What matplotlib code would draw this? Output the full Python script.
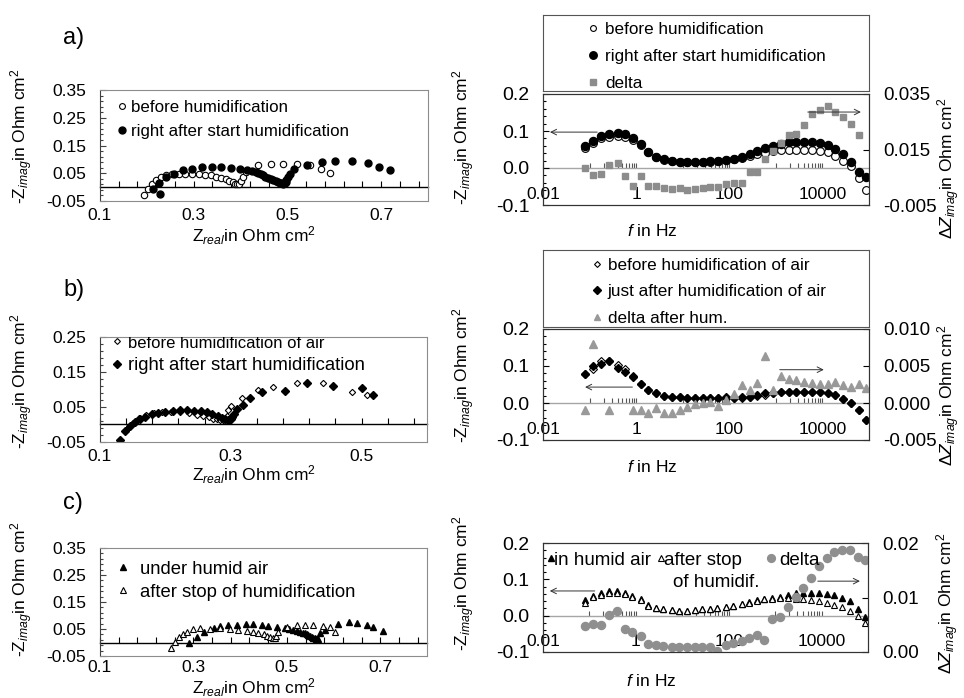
import numpy as np
import matplotlib
matplotlib.use('Agg')
import matplotlib.pyplot as plt
from matplotlib.ticker import (MultipleLocator, FixedLocator, FormatStrFormatter,
                               FuncFormatter, NullLocator)
from matplotlib.lines import Line2D

plt.rcParams['font.family'] = ['Liberation Sans', 'DejaVu Sans']
plt.rcParams['mathtext.fontset'] = 'custom'
plt.rcParams['mathtext.rm'] = 'Liberation Sans'
plt.rcParams['mathtext.it'] = 'Liberation Sans:italic'
plt.rcParams['mathtext.bf'] = 'Liberation Sans:bold'

# ---------------- data ----------------
# frequencies (Hz) used for all Bode plots
freq = [0.08, 0.12, 0.18, 0.26, 0.40, 0.58, 0.84, 1.27, 1.8, 2.7, 3.9, 5.9, 8.6,
        12.5, 18.7, 27, 39.5, 57, 87, 126, 190, 274, 400, 580, 870, 1270, 1920,
        2770, 4040, 5900, 8800, 12900, 18500, 27900, 40900, 60000, 86000]

# a) Nyquist
a_before_re = [0.194, 0.202, 0.211, 0.220, 0.230, 0.241, 0.253, 0.268, 0.282, 0.296,
               0.311, 0.325, 0.337, 0.348, 0.358, 0.368, 0.376, 0.383, 0.388, 0.393,
               0.397, 0.401, 0.405, 0.412, 0.437, 0.465, 0.491, 0.521, 0.548, 0.572, 0.591]
a_before_im = [-0.029, -0.007, 0.011, 0.025, 0.035, 0.043, 0.047, 0.049, 0.049, 0.048,
               0.047, 0.044, 0.042, 0.037, 0.032, 0.028, 0.023, 0.017, 0.013, 0.011,
               0.013, 0.023, 0.035, 0.055, 0.078, 0.085, 0.085, 0.083, 0.080, 0.066, 0.052]
a_after_re = [0.213, 0.228, 0.225, 0.241, 0.258, 0.278, 0.296, 0.318, 0.339, 0.359,
              0.380, 0.398, 0.414, 0.424, 0.432, 0.437, 0.443, 0.448, 0.453, 0.458,
              0.464, 0.469, 0.475, 0.480, 0.484, 0.488, 0.491, 0.494, 0.496, 0.498,
              0.501, 0.505, 0.514, 0.541, 0.573, 0.602, 0.637, 0.671, 0.695, 0.719]
a_after_im = [-0.008, -0.023, 0.016, 0.035, 0.049, 0.061, 0.067, 0.071, 0.072, 0.071,
              0.068, 0.065, 0.061, 0.057, 0.053, 0.050, 0.046, 0.042, 0.038, 0.033,
              0.029, 0.025, 0.022, 0.019, 0.016, 0.014, 0.013, 0.014, 0.018, 0.025,
              0.035, 0.047, 0.067, 0.079, 0.092, 0.095, 0.094, 0.088, 0.073, 0.061]
# a) Bode
a_bode_before = [0.053, 0.067, 0.081, 0.085, 0.086, 0.085, 0.077, 0.062, 0.043, 0.030,
                 0.022, 0.018, 0.016, 0.015, 0.015, 0.016, 0.017, 0.019, 0.021, 0.024,
                 0.028, 0.032, 0.037, 0.041, 0.045, 0.048, 0.049, 0.049, 0.049, 0.048,
                 0.046, 0.042, 0.032, 0.020, 0.006, -0.027, -0.060]
a_bode_after = [0.059, 0.073, 0.086, 0.092, 0.094, 0.091, 0.080, 0.064, 0.044, 0.031,
                0.023, 0.019, 0.017, 0.016, 0.016, 0.017, 0.018, 0.020, 0.022, 0.025,
                0.030, 0.038, 0.045, 0.053, 0.059, 0.066, 0.070, 0.070, 0.070, 0.069,
                0.067, 0.062, 0.051, 0.038, 0.017, -0.010, -0.023]
a_delta = [0.0082, 0.0058, 0.0061, 0.0094, 0.0102, 0.0055, 0.0019, 0.0055, 0.0019, 0.0018,
           0.0010, 0.0006, 0.0010, 0.0004, 0.0006, 0.0013, 0.0016, 0.0016, 0.0026, 0.0028,
           0.0030, 0.0070, 0.0070, 0.0114, 0.0145, 0.0172, 0.0202, 0.0205, 0.0238, 0.0277,
           0.0292, 0.0307, 0.0286, 0.0267, 0.0241, 0.0202, np.nan]

# b) Nyquist
b_before_re = [0.140, 0.150, 0.160, 0.170, 0.182, 0.195, 0.208, 0.222, 0.236, 0.248,
               0.258, 0.266, 0.273, 0.279, 0.284, 0.288, 0.291, 0.294, 0.296, 0.301,
               0.317, 0.342, 0.365, 0.401, 0.441, 0.485, 0.508]
b_before_im = [-0.015, 0.005, 0.018, 0.026, 0.032, 0.035, 0.036, 0.035, 0.032, 0.028,
               0.024, 0.020, 0.017, 0.015, 0.013, 0.012, 0.013, 0.025, 0.041, 0.053,
               0.075, 0.099, 0.106, 0.118, 0.118, 0.094, 0.083]
b_after_re = [0.131, 0.138, 0.146, 0.154, 0.161, 0.169, 0.179, 0.189, 0.199, 0.211,
              0.222, 0.233, 0.243, 0.254, 0.264, 0.272, 0.280, 0.286, 0.291, 0.295,
              0.298, 0.300, 0.302, 0.305, 0.310, 0.318, 0.329, 0.348, 0.383, 0.417,
              0.456, 0.500, 0.518]
b_after_im = [-0.044, -0.020, -0.004, 0.008, 0.016, 0.022, 0.029, 0.034, 0.037, 0.039,
              0.040, 0.040, 0.039, 0.038, 0.035, 0.030, 0.025, 0.018, 0.015, 0.014,
              0.014, 0.016, 0.022, 0.031, 0.043, 0.055, 0.075, 0.092, 0.097, 0.118,
              0.110, 0.103, 0.083]
# b) Bode
b_bode_before = [0.079, 0.091, 0.114, 0.113, 0.104, 0.093, 0.072, 0.051, 0.035, 0.026,
                 0.019, 0.016, 0.015, 0.013, 0.013, 0.013, 0.013, 0.013, 0.014, 0.013,
                 0.014, 0.016, 0.019, 0.022, 0.026, 0.029, 0.030, 0.030, 0.030, 0.030,
                 0.030, 0.028, 0.022, 0.012, -0.001, -0.020, -0.047]
b_bode_after = [0.079, 0.099, 0.106, 0.113, 0.094, 0.085, 0.071, 0.051, 0.035, 0.026,
                0.019, 0.016, 0.015, 0.013, 0.013, 0.013, 0.013, 0.013, 0.015, 0.013,
                0.015, 0.017, 0.022, 0.026, 0.028, 0.031, 0.031, 0.031, 0.031, 0.031,
                0.031, 0.028, 0.022, 0.012, -0.001, -0.020, -0.047]
b_delta = [-0.0009, 0.0080, np.nan, -0.0009, np.nan, np.nan, -0.0009, -0.0010, -0.0013, -0.0007,
           -0.0013, -0.0013, -0.0010, -0.0005, -0.0002, 0.0000, 0.0001, -0.0004, 0.0004, 0.0012,
           0.0024, 0.0018, 0.0027, 0.0064, 0.0018, 0.0036, 0.0033, 0.0031, 0.0029, 0.0027,
           0.0026, 0.0026, 0.0029, 0.0024, 0.0022, 0.0026, 0.0020]

# c) Nyquist
c_humid_re = [0.291, 0.307, 0.323, 0.343, 0.357, 0.375, 0.394, 0.413, 0.428, 0.446,
              0.460, 0.478, 0.496, 0.505, 0.514, 0.521, 0.528, 0.534, 0.539, 0.543,
              0.546, 0.550, 0.553, 0.557, 0.560, 0.562, 0.564, 0.567, 0.571, 0.582,
              0.610, 0.632, 0.650, 0.671, 0.685, 0.705]
c_humid_im = [-0.001, 0.021, 0.038, 0.053, 0.062, 0.065, 0.065, 0.067, 0.067, 0.065,
              0.062, 0.059, 0.053, 0.050, 0.046, 0.043, 0.040, 0.037, 0.034, 0.031,
              0.028, 0.024, 0.021, 0.018, 0.015, 0.013, 0.012, 0.014, 0.034, 0.046,
              0.069, 0.075, 0.071, 0.065, 0.059, 0.044]
c_after_re = [0.251, 0.261, 0.269, 0.277, 0.287, 0.300, 0.314, 0.336, 0.357, 0.378,
              0.396, 0.414, 0.428, 0.439, 0.450, 0.457, 0.464, 0.470, 0.475, 0.477,
              0.480, 0.500, 0.521, 0.539, 0.557, 0.577, 0.593, 0.603]
c_after_im = [-0.022, 0.003, 0.019, 0.031, 0.040, 0.049, 0.052, 0.050, 0.052, 0.050,
              0.046, 0.044, 0.040, 0.034, 0.030, 0.025, 0.021, 0.018, 0.015, 0.024,
              0.040, 0.059, 0.065, 0.065, 0.065, 0.062, 0.059, 0.040]
# c) Bode
c_bode_humid = [0.043, 0.054, 0.062, 0.068, 0.068, 0.063, 0.055, 0.045, 0.028, 0.021,
                0.018, 0.016, 0.014, 0.014, 0.016, 0.018, 0.019, 0.020, 0.023, 0.027,
                0.032, 0.037, 0.043, 0.047, 0.050, 0.052, 0.057, 0.063, 0.063, 0.062,
                0.062, 0.060, 0.057, 0.048, 0.039, 0.018, -0.004]
c_bode_after = [0.036, 0.051, 0.057, 0.063, 0.063, 0.060, 0.051, 0.043, 0.027, 0.020,
                0.018, 0.016, 0.014, 0.014, 0.016, 0.018, 0.019, 0.020, 0.023, 0.027,
                0.031, 0.036, 0.041, 0.045, 0.047, 0.048, 0.048, 0.047, 0.045, 0.043,
                0.041, 0.036, 0.029, 0.023, 0.014, -0.001, -0.021]
c_delta = [0.0048, 0.0051, 0.0050, 0.0068, 0.0076, 0.0043, 0.0037, 0.0029, 0.0014, 0.0013,
           0.0011, 0.0010, 0.0010, 0.0010, 0.0010, 0.0010, 0.0010, 0.0001, 0.0013, 0.0016,
           0.0020, 0.0025, 0.0031, 0.0022, 0.0060, 0.0065, 0.0083, 0.0101, 0.0117, 0.0136,
           0.0158, 0.0172, 0.0184, 0.0188, 0.0188, 0.0174, 0.0169]

bode_major = [0.01, 1, 100, 10000]
bode_minor = [0.1, 0.2, 0.3, 0.4, 0.5, 0.6, 0.7, 0.8, 0.9,
              10, 20, 30, 40, 50, 60, 70, 80, 90,
              1000, 2000, 3000, 4000, 5000, 6000, 7000, 8000, 9000]

# ---------------- layout helpers ----------------
W, H = 964, 698
fig = plt.figure(figsize=(W / 100, H / 100), dpi=100)
fig.patch.set_facecolor('white')


def box(x0, y0, x1, y1):
    return [x0 / W, 1 - y1 / H, (x1 - x0) / W, (y1 - y0) / H]


YLAB = r'-Z$_{imag}$in Ohm cm$^2$'
XLAB = r'Z$_{real}$in Ohm cm$^2$'
DLAB = r'$\Delta Z_{imag}$in Ohm cm$^2$'
FLAB = r'$f$ in Hz'


def style_nyq(ax, ymin, ymax, xmax, ylab_y, xlab_y, xpad=5):
    ax.set_xlim(0.1, xmax)
    ax.set_ylim(ymin, ymax)
    for s in ax.spines.values():
        s.set_color('#8c8c8c')
        s.set_linewidth(0.8)
    ax.spines['left'].set_color('#404040')
    ax.xaxis.set_major_locator(MultipleLocator(0.2, offset=0.1))
    ax.xaxis.set_minor_locator(MultipleLocator(0.04, offset=0.02))
    ax.xaxis.set_major_formatter(FormatStrFormatter('%.1f'))
    ax.tick_params(axis='x', which='both', length=0, pad=xpad, labelsize=12.5)
    ax.yaxis.set_major_locator(MultipleLocator(0.1, offset=0.05))
    ax.yaxis.set_minor_locator(MultipleLocator(0.02, offset=0.01))
    ax.yaxis.set_major_formatter(FormatStrFormatter('%.2f'))
    ax.tick_params(axis='y', which='major', direction='in', length=4, width=0.8,
                   pad=10, labelsize=12.5, color='#404040')
    ax.tick_params(axis='y', which='minor', direction='in', length=2.5, width=0.8,
                   color='#404040')
    zero = (0 - ymin) / (ymax - ymin)
    sec = ax.secondary_xaxis(zero)
    for s in sec.spines.values():
        s.set_color('black')
        s.set_linewidth(1.0)
    sec.xaxis.set_major_locator(MultipleLocator(0.2, offset=0.1))
    sec.xaxis.set_minor_locator(MultipleLocator(0.04, offset=0.02))
    sec.tick_params(axis='x', which='both', direction='in', length=4, width=0.8,
                    color='black', labelbottom=False, labeltop=False)
    ax.set_ylabel(YLAB, fontsize=12.5)
    ax.yaxis.set_label_coords(-0.198, ylab_y)
    ax.set_xlabel(XLAB, fontsize=12.5)
    ax.xaxis.set_label_coords(0.47, xlab_y)


def style_bode(ax, ax2, r0, r1, rloc, rfmt, ylab_y, dlab_x, dlab_y, flab_y):
    ax.set_xscale('log')
    ax.set_xlim(0.01, 1e5)
    ax.set_ylim(-0.1, 0.2)
    for a in (ax, ax2):
        for s in a.spines.values():
            s.set_color('#333333')
            s.set_linewidth(0.8)
    ax.xaxis.set_major_locator(FixedLocator(bode_major))
    ax.xaxis.set_minor_locator(NullLocator())
    ax.xaxis.set_major_formatter(FuncFormatter(lambda v, p: f'{v:g}'))
    ax.tick_params(axis='x', which='both', length=0, pad=-13, labelsize=12.5)
    ax.yaxis.set_major_locator(MultipleLocator(0.1))
    ax.yaxis.set_minor_locator(MultipleLocator(0.02))
    ax.yaxis.set_major_formatter(FormatStrFormatter('%.1f'))
    ax.tick_params(axis='y', which='major', direction='in', length=4, width=0.8,
                   pad=9.5, labelsize=14)
    ax.tick_params(axis='y', which='minor', direction='in', length=2.5, width=0.8)
    ax2.set_ylim(r0, r1)
    ax2.yaxis.set_major_locator(rloc)
    ax2.yaxis.set_minor_locator(NullLocator())
    ax2.yaxis.set_major_formatter(FormatStrFormatter(rfmt))
    ax2.tick_params(axis='y', which='major', direction='in', length=4, width=0.8,
                    pad=10, labelsize=13.5)
    sec = ax.secondary_xaxis(1.0 / 3.0)
    for s in sec.spines.values():
        s.set_color('#a6a6a6')
        s.set_linewidth(1.0)
    sec.xaxis.set_major_locator(FixedLocator(bode_major))
    sec.xaxis.set_minor_locator(FixedLocator(bode_minor))
    sec.tick_params(axis='x', which='both', direction='in', length=3.5, width=0.8,
                    color='#555555', labelbottom=False, labeltop=False)
    ax.set_ylabel(YLAB, fontsize=12.5)
    ax.yaxis.set_label_coords(-0.202, ylab_y)
    ax2.set_ylabel(DLAB, fontsize=12.5)
    ax2.yaxis.set_label_coords(dlab_x, dlab_y)
    ax.set_xlabel(FLAB, fontsize=12.5)
    ax.xaxis.set_label_coords(0.334, flab_y)


def arrow(ax, tail, head):
    ax.annotate('', xy=head, xytext=tail,
                arrowprops=dict(arrowstyle='->', lw=0.7, color='#333333',
                                shrinkA=0, shrinkB=0, mutation_scale=10))


def simple_leg(ax, handles, labels, loc, anchor, fs, hl, htp, ls):
    lg = ax.legend(handles, labels, loc=loc, bbox_to_anchor=anchor, frameon=False,
                   fontsize=fs, handlelength=hl, handletextpad=htp, labelspacing=ls,
                   borderaxespad=0, borderpad=0, numpoints=1)
    return lg


open_kw = dict(linestyle='none', markerfacecolor='white', markeredgecolor='black',
               markeredgewidth=0.8)
fill_kw = dict(linestyle='none', color='black')

# ================= a) =================
axA = fig.add_axes(box(100, 90, 428, 201))
axA.plot(a_before_re, a_before_im, marker='o', markersize=4.6, **open_kw)
axA.plot(a_after_re, a_after_im, marker='o', markersize=5.0, **fill_kw)
style_nyq(axA, -0.05, 0.35, 0.8, 0.58, -0.21)
hA = [Line2D([], [], marker='o', markersize=4.2, **open_kw),
      Line2D([], [], marker='o', markersize=5.0, **fill_kw)]
simple_leg(axA, hA, ['before humidification', 'right after start humidification'],
           'upper left', (0.057, 0.914), 12.2, 0.4, 0.3, 0.55)

axAR = fig.add_axes(box(543, 94, 869, 205))
axAR2 = axAR.twinx()
axAR.plot(freq, a_bode_before, marker='o', markersize=5.6, **open_kw)
axAR.plot(freq, a_bode_after, marker='o', markersize=5.8, **fill_kw)
axAR2.plot(freq, a_delta, marker='s', markersize=5.0, linestyle='none', color='#8c8c8c')
style_bode(axAR, axAR2, -0.005, 0.035, MultipleLocator(0.02, offset=0.015), '%.3f',
           0.61, 1.205, 0.33, -0.16)
arrow(axAR, (0.146, 0.097), (0.0141, 0.097))
arrow(axAR2, (4850, 0.0285), (67000, 0.0285))

legA = fig.add_axes(box(543, 15, 869, 91))
legA.set_xticks([]); legA.set_yticks([])
for s in legA.spines.values():
    s.set_color('#555555'); s.set_linewidth(0.8)
hAR = [Line2D([], [], marker='o', markersize=4.2, **open_kw),
       Line2D([], [], marker='o', markersize=5.4, **fill_kw),
       Line2D([], [], marker='s', markersize=4.4, linestyle='none', color='#8c8c8c')]
simple_leg(legA, hAR, ['before humidification', 'right after start humidification', 'delta'],
           'center left', (0.132, 0.455), 12.3, 0.8, 0.3, 0.68)

# ================= b) =================
axB = fig.add_axes(box(100, 337, 427, 442))
axB.plot(b_before_re, b_before_im, marker='D', markersize=3.2, **open_kw)
axB.plot(b_after_re, b_after_im, marker='D', markersize=3.6, **fill_kw)
style_nyq(axB, -0.05, 0.25, 0.6, 0.58, -0.2)
hB = [Line2D([], [], marker='D', markersize=3.0, **open_kw),
      Line2D([], [], marker='D', markersize=3.6, **fill_kw)]
lgB = simple_leg(axB, hB, ['before humidification of air', 'right after start humidification'],
                 'upper left', (0.038, 1.021), 13.3, 0.5, 0.35, 0.34)
lgB.get_texts()[0].set_fontsize(12)
for t in lgB.get_texts():
    t.set_clip_on(True)
    t.set_clip_box(axB.bbox)

axBR = fig.add_axes(box(543, 329, 869, 440))
axBR2 = axBR.twinx()
axBR.plot(freq, b_bode_before, marker='D', markersize=4.0, **open_kw)
axBR.plot(freq, b_bode_after, marker='D', markersize=4.0, **fill_kw)
axBR2.plot(freq, b_delta, marker='^', markersize=5.3, linestyle='none', color='#999999')
style_bode(axBR, axBR2, -0.005, 0.010, MultipleLocator(0.005), '%.3f',
           0.58, 1.205, 0.4, -0.17)
arrow(axBR, (0.83, 0.043), (0.08, 0.043))
arrow(axBR2, (1210, 0.0045), (10700, 0.0045))

legB = fig.add_axes(box(543, 250, 869, 327))
legB.set_xticks([]); legB.set_yticks([])
for s in legB.spines.values():
    s.set_color('#555555'); s.set_linewidth(0.8)
hBR = [Line2D([], [], marker='D', markersize=3.0, **open_kw),
       Line2D([], [], marker='D', markersize=3.6, **fill_kw),
       Line2D([], [], marker='^', markersize=4.6, linestyle='none', color='#999999')]
simple_leg(legB, hBR, ['before humidification of air', 'just after humidification of air',
                       'delta after hum.'],
           'center left', (0.144, 0.455), 12.3, 0.8, 0.25, 0.68)

# ================= c) =================
axC = fig.add_axes(box(100, 548, 427, 656))
axC.plot(c_humid_re, c_humid_im, marker='^', markersize=4.6, **fill_kw)
axC.plot(c_after_re, c_after_im, marker='^', markersize=4.6, **open_kw)
style_nyq(axC, -0.05, 0.35, 0.8, 0.62, -0.19, xpad=3)
hC = [Line2D([], [], marker='^', markersize=4.6, **fill_kw),
      Line2D([], [], marker='^', markersize=4.4, **open_kw)]
simple_leg(axC, hC, ['under humid air', 'after stop of humidification'],
           'upper left', (0.054, 0.883), 13.3, 0.6, 0.6, 0.32)

axCR = fig.add_axes(box(543, 543, 868, 652))
axCR2 = axCR.twinx()
axCR.plot(freq, c_bode_humid, marker='^', markersize=4.8, **fill_kw)
axCR.plot(freq, c_bode_after, marker='^', markersize=4.8, **open_kw)
axCR2.plot(freq, c_delta, marker='o', markersize=5.8, linestyle='none', color='#8f8f8f')
style_bode(axCR, axCR2, 0.0, 0.02, MultipleLocator(0.01), '%.2f',
           0.63, 1.205, 0.45, -0.19)
arrow(axCR, (0.13, 0.068), (0.014, 0.068))
arrow(axCR2, (8300, 0.013), (67000, 0.013))
l1 = simple_leg(axCR2, [Line2D([], [], marker='^', markersize=4.6, **fill_kw)],
                ['in humid air'], 'center left', (0.012, 0.844), 13.5, 0.4, 0.0, 0.2)
axCR2.add_artist(l1)
l2 = simple_leg(axCR2, [Line2D([], [], marker='^', markersize=4.4, **open_kw)],
                ['after stop'], 'center left', (0.35, 0.844), 13.5, 0.4, 0.0, 0.2)
axCR2.add_artist(l2)
simple_leg(axCR2, [Line2D([], [], marker='o', markersize=5.6, linestyle='none',
                          color='#8f8f8f')],
           ['delta'], 'center left', (0.69, 0.844), 13.5, 0.4, 0.25, 0.2)
axCR2.text(0.40, 0.642, 'of humidif.', transform=axCR2.transAxes, fontsize=13.5,
           ha='left', va='center')

# panel letters
for lab, (px, py) in zip(['a)', 'b)', 'c)'], [(74, 38), (74, 290), (73, 503)]):
    fig.text(px / W, 1 - py / H, lab, fontsize=17, ha='center', va='center')

fig.savefig('out.png', dpi=100, facecolor='white')
